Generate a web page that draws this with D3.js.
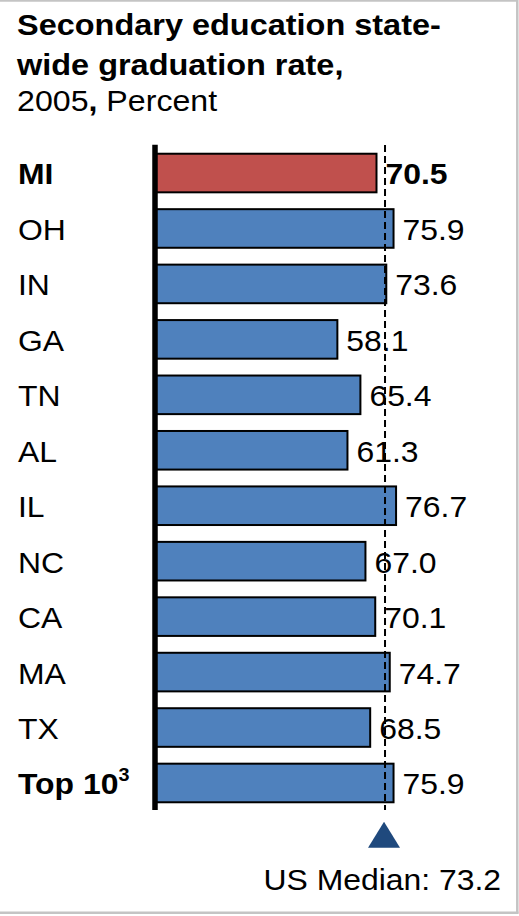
<!DOCTYPE html>
<html>
<head>
<meta charset="utf-8">
<script src="https://cdn.jsdelivr.net/npm/d3@7"></script>
<style>
html,body{margin:0;padding:0;background:#fff;}
svg{display:block;}
text{font-family:"Liberation Sans", Arial, sans-serif;fill:#000;}
</style>
</head>
<body>
<script>
const categories = ["MI","OH","IN","GA","TN","AL","IL","NC","CA","MA","TX","Top 10"];
const values = [70.5, 75.9, 73.6, 58.1, 65.4, 61.3, 76.7, 67.0, 70.1, 74.7, 68.5, 75.9];
const highlighted = ["MI"];
const boldCategories = ["MI","Top 10"];
const medianValue = 73.2;
const titleLines = ["Secondary education state-", "wide graduation rate,"];
const subtitle = ["2005", ",", " Percent"];
const medianLabel = "US Median: 73.2";

const W = 519, H = 916;
const svg = d3.select("body").append("svg").attr("width", W).attr("height", H);

// frame
svg.append("line").attr("x1",0).attr("x2",517.5).attr("y1",0.8).attr("y2",0.8).attr("stroke","#c4c4c4").attr("stroke-width",2);
svg.append("line").attr("x1",517.3).attr("x2",517.3).attr("y1",0).attr("y2",913.5).attr("stroke","#c4c4c4").attr("stroke-width",2.5);
svg.append("line").attr("x1",0).attr("x2",518.5).attr("y1",912.8).attr("y2",912.8).attr("stroke","#c4c4c4").attr("stroke-width",2.5);

function stext(x, y, str, opts) {
  const sx = opts.sx || 1.1;
  const g = svg.append("g").attr("transform", `translate(${x},${y}) scale(${sx},1)`);
  const t = g.append("text")
    .attr("font-size", opts.size || 29)
    .attr("font-weight", opts.bold ? "bold" : "normal")
    .attr("text-anchor", opts.anchor || "start")
    .attr("dominant-baseline", opts.baseline || "auto");
  if (str !== null) t.text(str);
  return t;
}

// title
stext(17, 35, titleLines[0], {size:29, bold:true, sx:1.12});
stext(17, 75, titleLines[1], {size:29, bold:true, sx:1.12});
const sub = stext(17, 111, null, {size:28.7, sx:1.12});
sub.append("tspan").text(subtitle[0]);
sub.append("tspan").attr("font-weight","bold").text(subtitle[1]);
sub.append("tspan").text(subtitle[2]);

// scales
const x = d3.scaleLinear().domain([0, 80]).range([154, 154 + 80*3.156]);
const y = d3.scaleBand().domain(categories).range([145.3, 810.7]).paddingInner(0.304).paddingOuter(0.152);

// bars
svg.selectAll("rect.bar").data(categories).enter().append("rect")
  .attr("class","bar")
  .attr("x", x(0))
  .attr("y", d => y(d))
  .attr("width", (d,i) => x(values[i]) - x(0))
  .attr("height", y.bandwidth())
  .attr("fill", d => highlighted.includes(d) ? "#C0504D" : "#4F81BD")
  .attr("stroke", "#000")
  .attr("stroke-width", 2);

// axis line
svg.append("line").attr("x1", x(0)+1).attr("x2", x(0)+1).attr("y1", 144.7).attr("y2", 810)
  .attr("stroke","#000").attr("stroke-width",5.5);

// median dashed line
svg.append("line").attr("x1", x(medianValue)).attr("x2", x(medianValue)).attr("y1",145).attr("y2",810)
  .attr("stroke","#000").attr("stroke-width",2).attr("stroke-dasharray","7,4");

// category labels
categories.forEach((c,i) => {
  const cy = y(c) + y.bandwidth()/2 + 1;
  if (c === "Top 10") {
    const t = stext(18, cy, null, {size:29, bold:true, baseline:"central"});
    t.append("tspan").text("Top 10");
    t.append("tspan").attr("font-size",18).attr("dy",-10).text("3");
  } else {
    stext(18, cy, c, {size:29, bold: boldCategories.includes(c), baseline:"central"});
  }
  stext(x(values[i]) + 9, cy, values[i].toFixed(1), {size:29, bold: highlighted.includes(c), baseline:"central"});
});

// median marker
const mx = x(medianValue) - 1;
svg.append("path")
  .attr("d", `M${mx},821.7 L${mx+16},847.7 L${mx-16},847.7 Z`)
  .attr("fill","#1F497D");
stext(501, 890, medianLabel, {size:29, anchor:"end"});
</script>
</body>
</html>
